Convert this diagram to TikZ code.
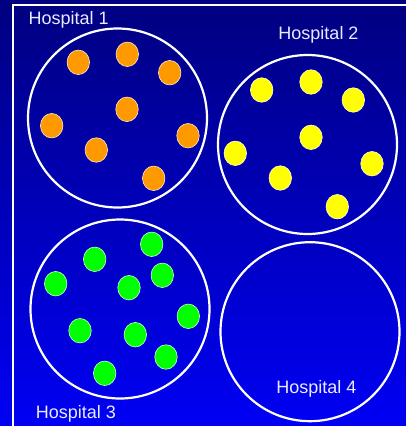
\documentclass[tikz,border=0pt]{standalone}
\usepackage{fontspec}
\setmainfont{Liberation Sans}
\usetikzlibrary{shapes.geometric}

\definecolor{bgtop}{RGB}{0,0,128}
\definecolor{bgbottom}{RGB}{0,0,245}
\definecolor{dotorange}{RGB}{255,153,0}
\definecolor{dotyellow}{RGB}{255,255,0}
\definecolor{dotgreen}{RGB}{0,255,0}

\begin{document}
\begin{tikzpicture}[
		x=1pt, y=-1pt,
		% Hospital rings (fixed size, all four the same)
		hospital/.style={
				circle, draw=white, line width=2.2pt,
				minimum size=179pt, inner sep=0pt
			},
		% Patients inside the rings
		patient/.style={
				ellipse, draw=white!80!#1, line width=0.6pt, fill=#1,
				minimum width=22.5pt, minimum height=24.5pt, inner sep=0pt
			},
		% Hospital names
		hosplabel/.style={
				font=\fontsize{18}{20}\selectfont, text=white!92!blue,
				inner sep=0pt, anchor=base
			},
		frameline/.style={draw=white, line width=1.8pt}
	]

	% ==========================================
	% 1. BACKGROUND AND FRAME
	% ==========================================
	\useasboundingbox (0,0) rectangle (406,426);
	\shade[top color=bgtop, bottom color=bgbottom] (0,0) rectangle (406,426);
	\coordinate (framebl) at (13,426);
	\coordinate (frametr) at (406,5);
	\draw[frameline] (framebl) |- (frametr);

	% ==========================================
	% 2. HOSPITAL RINGS
	% ==========================================
	\node[hospital] (hosp1) at (117.5,118) {};
	\node[hospital] (hosp2) at (307.5,144.5) {};
	\node[hospital] (hosp3) at (120,309) {};
	\node[hospital] (hosp4) at (310,331.7) {};

	% ==========================================
	% 3. PATIENTS
	% ==========================================
	% Hospital 1 (orange)
	\foreach \px/\py [count=\i] in {78.3/62.3, 127.3/54.3, 169.7/72.7, 127/109.3,
			51.7/125.7, 96.3/150, 188/135.7, 153.7/178.3}
		\node[patient=dotorange] (orange\i) at (\px,\py) {};

	% Hospital 2 (yellow)
	\foreach \px/\py [count=\i] in {261.7/90, 311/82, 353.3/100, 311/137.3,
			235.3/153.3, 280.3/178, 372/163.7, 337.3/206.7}
		\node[patient=dotyellow] (yellow\i) at (\px,\py) {};

	% Hospital 3 (green)
	\foreach \px/\py [count=\i] in {151.7/244.3, 94.7/259.3, 55.7/283.7, 162.3/275.3,
			129/287.7, 188.3/316.3, 80/330.7, 135.3/334.7, 166/357, 104.7/373.3}
		\node[patient=dotgreen] (green\i) at (\px,\py) {};

	% ==========================================
	% 4. LABELS
	% ==========================================
	\node[hosplabel] (name1) at (68.7,24) {Hospital 1};
	\node[hosplabel] (name2) at (318.5,39.3) {Hospital 2};
	\node[hosplabel] (name3) at (75.8,418) {Hospital 3};
	\node[hosplabel] (name4) at (316.3,393.3) {Hospital 4};

\end{tikzpicture}
\end{document}
